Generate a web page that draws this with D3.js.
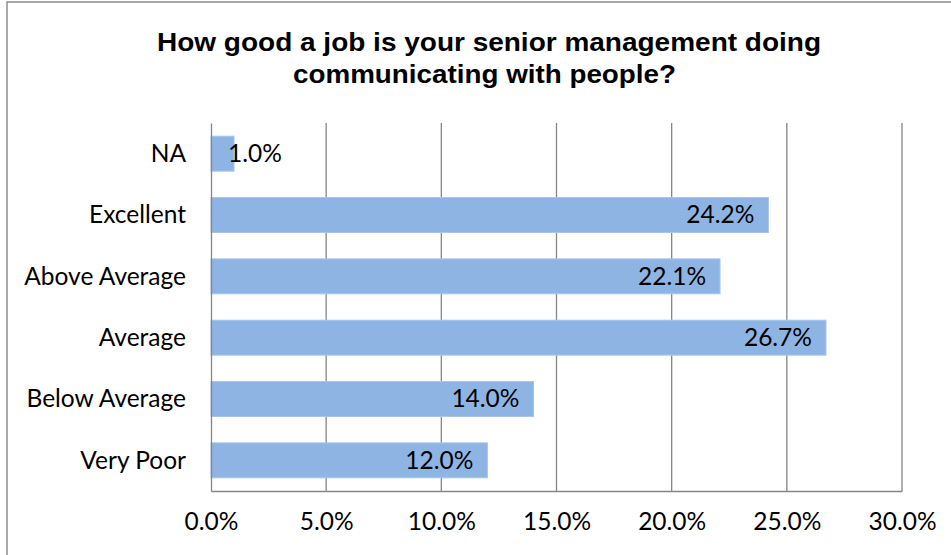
<!DOCTYPE html>
<html>
<head>
<meta charset="utf-8">
<style>
  body { margin: 0; background: #fff; }
  text { font-family: Lato, "Open Sans", sans-serif; }
</style>
</head>
<body>
<svg width="951" height="555"></svg>
<script src="https://d3js.org/d3.v7.min.js"></script>
<script>
  var categories = ["NA", "Excellent", "Above Average", "Average", "Below Average", "Very Poor"];
  var values = [1.0, 24.2, 22.1, 26.7, 14.0, 12.0];
  var tickValues = [0, 5, 10, 15, 20, 25, 30];
  var titleLines = ["How good a job is your senior management doing", "communicating with people?"];

  var svg = d3.select("svg"),
      margin = {top: 123, right: 49, bottom: 64, left: 211},
      width = +svg.attr("width") - margin.left - margin.right,
      height = +svg.attr("height") - margin.top - margin.bottom;

  // outer chart border (right and bottom edges fall off the picture)
  svg.append("rect")
      .attr("x", 7).attr("y", 2)
      .attr("width", 1000).attr("height", 700)
      .attr("fill", "none")
      .attr("stroke", "#8c8c8c")
      .attr("stroke-width", 1.5);

  svg.append("g")
      .attr("text-anchor", "middle")
    .selectAll("text")
    .data(titleLines)
    .enter().append("text")
      .style("font-family", "'Liberation Sans', Arial, sans-serif")
      .attr("font-weight", "bold")
      .attr("font-size", 25.5)
      .attr("x", function(d, i) { return i ? 484.5 : 489; })
      .attr("y", function(d, i) { return 50.5 + i * 32; })
      .attr("textLength", function(d, i) { return i ? 383 : 664; })
      .attr("lengthAdjust", "spacingAndGlyphs")
      .text(function(d) { return d; });

  var g = svg.append("g").attr("transform", "translate(" + margin.left + "," + margin.top + ")");

  var x = d3.scaleLinear().domain([0, 30]).range([0, width]);
  var y = d3.scaleBand().domain(categories).range([0, height]).paddingInner(0.43).paddingOuter(0.215);

  // vertical gridlines
  g.append("g")
    .selectAll("line")
    .data(tickValues.slice(1))
    .enter().append("line")
      .attr("x1", function(d) { return x(d); })
      .attr("x2", function(d) { return x(d); })
      .attr("y1", 0)
      .attr("y2", height)
      .attr("stroke", "#868686")
      .attr("stroke-width", 1.3);

  g.append("g")
      .attr("transform", "translate(0," + height + ")")
      .call(d3.axisBottom(x).tickValues(tickValues).tickSize(0).tickPadding(22)
        .tickFormat(function(d) { return d.toFixed(1) + "%"; }))
      .call(function(a) {
        a.select(".domain").attr("stroke", "#868686").attr("stroke-width", 1.3);
        a.selectAll("text").attr("font-size", 24.5).attr("fill", "#000").attr("font-family", null);
      });

  g.append("g")
      .selectAll("rect")
      .data(values)
      .enter().append("rect")
        .attr("x", 0)
        .attr("y", function(d, i) { return y(categories[i]); })
        .attr("width", function(d) { return x(d); })
        .attr("height", y.bandwidth())
        .attr("fill", "#8eb4e3")
        .attr("stroke", "#a9c5ea")
        .attr("stroke-width", 1);

  g.append("g")
      .call(d3.axisLeft(y).tickSize(0).tickPadding(25))
      .call(function(a) {
        a.select(".domain").attr("stroke", "#868686").attr("stroke-width", 1.3);
        a.selectAll("text").attr("font-size", 24.5).attr("fill", "#000").attr("font-family", null).attr("dy", "0.34em");
      });

  var labels = g.append("g")
      .selectAll("text")
      .data(values)
      .enter().append("text")
        .attr("font-size", 24.5)
        .attr("text-anchor", "end")
        .attr("y", function(d, i) { return y(categories[i]) + y.bandwidth() / 2; })
        .attr("dy", "0.34em")
        .text(function(d) { return d.toFixed(1) + "%"; });

  labels.attr("x", function(d) {
    var w = this.getComputedTextLength();
    return Math.max(x(d) - 14, 17 + w);
  });
</script>
</body>
</html>
